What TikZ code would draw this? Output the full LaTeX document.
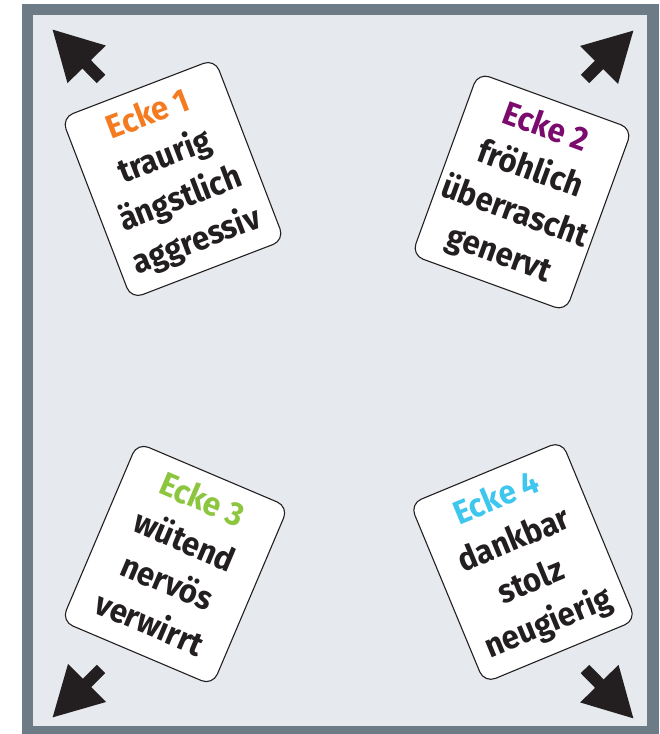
\documentclass[tikz,border=0pt]{standalone}
\usepackage{fontspec}
\setmainfont{Fira Sans}[FakeStretch=0.94]
\usetikzlibrary{arrows.meta}

\definecolor{rahmen}{HTML}{6D7B86}
\definecolor{boden}{HTML}{E6EAEE}
\definecolor{schwarz}{HTML}{231F20}
\definecolor{orange1}{HTML}{F47B20}
\definecolor{lila2}{HTML}{7B0C6E}
\definecolor{gruen3}{HTML}{8CC63F}
\definecolor{blau4}{HTML}{3DC6EE}

\tikzset{
  karte/.style={draw=schwarz, line width=1.1pt, fill=white, rounded corners=12pt,
    minimum width=164pt, minimum height=194pt, inner sep=0pt, align=center,
    text=schwarz, font=\fontsize{33}{45}\selectfont\bfseries},
  pfeil/.style={draw=schwarz, line width=12pt,
    -{Triangle[length=49.5pt, width=50pt]}},
}

\begin{document}
\begin{tikzpicture}[x=1pt, y=1pt]
    \useasboundingbox (0,0) rectangle (660,734);
    \fill[rahmen] (22,0) rectangle (659,730);
    \fill[boden] (33,8) rectangle (647,719);

    \node[karte, rotate=21] (k1) at (173,555)
        {\textcolor{orange1}{Ecke 1}\strut\\traurig\strut\\ängstlich\strut\\aggressiv\strut};
    \node[karte, rotate=-20] (k2) at (522,542)
        {\textcolor{lila2}{Ecke 2}\strut\\fröhlich\strut\\überrascht\strut\\genervt\strut};
    \node[karte, rotate=-23] (k3) at (175,170)
        {\textcolor{gruen3}{Ecke 3}\strut\\wütend\strut\\nervös\strut\\verwirrt\strut};
    \node[karte, rotate=22.5] (k4) at (523,172)
        {\textcolor{blau4}{Ecke 4}\strut\\dankbar\strut\\stolz\strut\\neugierig\strut};

    % Pfeile in die Ecken
    \coordinate (s1) at (101,655);
    \coordinate (p1) at (52,705);
    \coordinate (s2) at (585,655);
    \coordinate (p2) at (634,704);
    \coordinate (s3) at (101,65);
    \coordinate (p3) at (52,16);
    \coordinate (s4) at (585,65);
    \coordinate (p4) at (634,15);

    \draw[pfeil] (s1) -- (p1);
    \draw[pfeil] (s2) -- (p2);
    \draw[pfeil] (s3) -- (p3);
    \draw[pfeil] (s4) -- (p4);
\end{tikzpicture}
\end{document}
